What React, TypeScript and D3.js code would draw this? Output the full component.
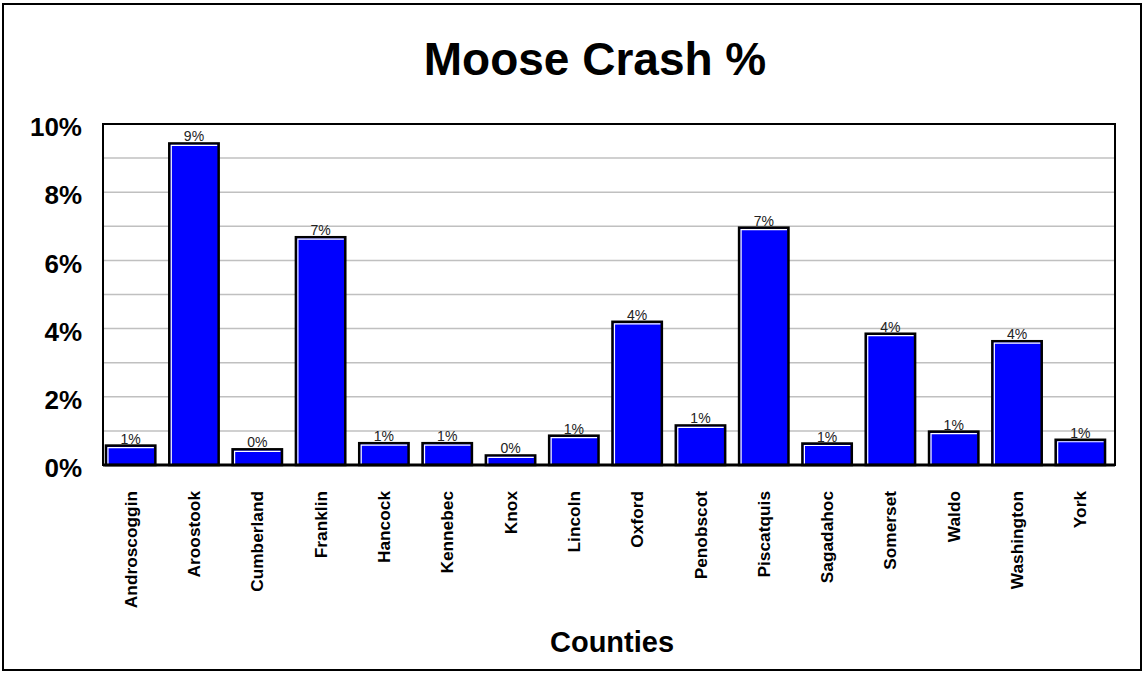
import { useEffect, useRef } from "react"
import * as d3 from "d3"

const counties = [
  "Androscoggin", "Aroostook", "Cumberland", "Franklin", "Hancock", "Kennebec", "Knox", "Lincoln",
  "Oxford", "Penobscot", "Piscatquis", "Sagadahoc", "Somerset", "Waldo", "Washington", "York",
]
const crashPct = [0.57, 9.43, 0.46, 6.68, 0.64, 0.64, 0.28, 0.86, 4.2, 1.16, 6.96, 0.63, 3.85, 0.98, 3.63, 0.74]
const yTicks = [0, 2, 4, 6, 8, 10]
const gridTicks = [1, 2, 3, 4, 5, 6, 7, 8, 9]

const W = 1145
const H = 673
const FONT = "Arial, 'Liberation Sans', Helvetica, sans-serif"

export default function App() {
  const svgRef = useRef<SVGSVGElement | null>(null)

  useEffect(() => {
    const svg = d3.select(svgRef.current)
    svg.selectAll("*").remove()

    const plot = { left: 103, right: 1115, top: 124, bottom: 465 }

    const x = d3.scaleBand<string>().domain(counties).range([99, 1112]).paddingInner(0.22).paddingOuter(0.11)
    const y = d3.scaleLinear().domain([0, 10]).range([plot.bottom, plot.top])

    svg.append("rect").attr("width", W).attr("height", H).attr("fill", "#fff")

    // outer frame
    svg.append("rect")
      .attr("x", 3).attr("y", 4).attr("width", 1138).attr("height", 666)
      .attr("fill", "none").attr("stroke", "#000").attr("stroke-width", 2)

    // title
    svg.append("text")
      .attr("x", 595).attr("y", 75)
      .attr("text-anchor", "middle")
      .attr("font-family", FONT).attr("font-weight", "bold").attr("font-size", 46)
      .text("Moose Crash %")

    // gridlines
    svg.append("g")
      .selectAll("line")
      .data(gridTicks)
      .enter()
      .append("line")
      .attr("x1", plot.left).attr("x2", plot.right)
      .attr("y1", (d) => y(d)).attr("y2", (d) => y(d))
      .attr("stroke", "#c0c0c0").attr("stroke-width", 1.5)

    // plot frame
    svg.append("rect")
      .attr("x", plot.left).attr("y", plot.top)
      .attr("width", plot.right - plot.left).attr("height", plot.bottom - plot.top)
      .attr("fill", "none").attr("stroke", "#000").attr("stroke-width", 2)

    // y labels
    svg.append("g")
      .selectAll("text")
      .data(yTicks)
      .enter()
      .append("text")
      .attr("x", 82).attr("y", (d) => y(d) + 3)
      .attr("dy", "0.35em")
      .attr("text-anchor", "end")
      .attr("font-family", FONT).attr("font-weight", "bold").attr("font-size", 26)
      .text((d) => `${d}%`)

    // bars
    const bars = svg.append("g")
      .selectAll("g")
      .data(counties.map((c, i) => ({ c, v: crashPct[i] })))
      .enter()
      .append("g")

    bars.append("rect")
      .attr("x", (d) => x(d.c)!)
      .attr("y", (d) => y(d.v))
      .attr("width", x.bandwidth())
      .attr("height", (d) => y(0) - y(d.v))
      .attr("fill", "#0000ff").attr("stroke", "#000").attr("stroke-width", 2.5)

    // white bevel on top and left
    bars.append("path")
      .attr("d", (d) => {
        const x0 = x(d.c)! + 2
        const y0 = y(d.v) + 2
        return `M${x0},${y(0) - 1}V${y0}H${x(d.c)! + x.bandwidth() - 1.5}`
      })
      .attr("fill", "none").attr("stroke", "#fff").attr("stroke-width", 1.2)

    bars.append("text")
      .attr("x", (d) => x(d.c)! + x.bandwidth() / 2)
      .attr("y", (d) => y(d.v) - 2)
      .attr("text-anchor", "middle")
      .attr("font-family", FONT).attr("font-size", 14).attr("fill", "#222")
      .text((d) => `${Math.round(d.v)}%`)

    // bottom axis line
    svg.append("line")
      .attr("x1", plot.left).attr("x2", plot.right)
      .attr("y1", plot.bottom).attr("y2", plot.bottom)
      .attr("stroke", "#000").attr("stroke-width", 3)

    // x labels
    svg.append("g")
      .selectAll("text")
      .data(counties)
      .enter()
      .append("text")
      .attr("transform", (d) => `translate(${x(d)! + x.bandwidth() / 2},491) rotate(-90)`)
      .attr("dy", "0.35em")
      .attr("text-anchor", "end")
      .attr("font-family", FONT).attr("font-weight", "bold").attr("font-size", 17.3)
      .text((d) => d)

    // x title
    svg.append("text")
      .attr("x", 612).attr("y", 652)
      .attr("text-anchor", "middle")
      .attr("font-family", FONT).attr("font-weight", "bold").attr("font-size", 29)
      .text("Counties")
  }, [])

  return <svg ref={svgRef} width={W} height={H} style={{ position: "absolute", left: 0, top: 0 }}></svg>
}
